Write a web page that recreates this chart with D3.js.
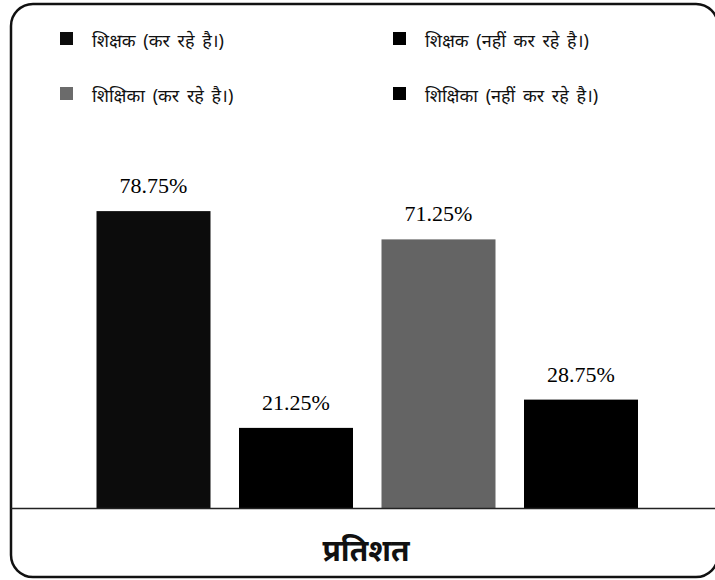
<!DOCTYPE html>
<html>
<head>
<meta charset="utf-8">
<script src="https://cdn.jsdelivr.net/npm/d3@7"></script>
<style>
  body { margin: 0; background: #fff; }
  svg { display: block; }
</style>
</head>
<body>
<div id="chart"></div>
<script>
// data
var categories = ["शिक्षक (कर रहे है।)", "शिक्षक (नहीं कर रहे है।)", "शिक्षिका (कर रहे है।)", "शिक्षिका (नहीं कर रहे है।)"];
var values = [78.75, 21.25, 71.25, 28.75];
var colors = ["#0c0c0c", "#000000", "#646464", "#000000"];
var axisTitle = "प्रतिशत";

var width = 715, height = 580;
var baseY = 508;

var svg = d3.select("#chart").append("svg")
  .attr("width", width)
  .attr("height", height);

// frame, right side runs slightly off the page
svg.append("rect")
  .attr("x", 11)
  .attr("y", 4)
  .attr("width", 707)
  .attr("height", 573)
  .attr("rx", 22)
  .attr("ry", 22)
  .style("fill", "none")
  .style("stroke", "#111")
  .style("stroke-width", 2.5);

var x = d3.scaleBand()
  .domain(categories)
  .range([68, 666.5])
  .padding(0.2);

var y = d3.scaleLinear()
  .domain([0, 100])
  .range([baseY, 131]);

svg.selectAll(".bar")
  .data(categories)
  .enter()
  .append("rect")
  .attr("class", "bar")
  .attr("x", function (d) { return x(d); })
  .attr("y", function (d, i) { return y(values[i]); })
  .attr("width", x.bandwidth())
  .attr("height", function (d, i) { return baseY - y(values[i]); })
  .style("fill", function (d, i) { return colors[i]; });

svg.selectAll(".val")
  .data(categories)
  .enter()
  .append("text")
  .attr("class", "val")
  .attr("x", function (d) { return x(d) + x.bandwidth() / 2; })
  .attr("y", function (d, i) { return y(values[i]) - 18; })
  .attr("text-anchor", "middle")
  .style("font-family", "'Liberation Serif', 'Times New Roman', serif")
  .style("font-size", "22px")
  .style("fill", "#000")
  .text(function (d, i) { return values[i].toFixed(2) + "%"; });

// baseline
svg.append("line")
  .attr("x1", 11)
  .attr("x2", width)
  .attr("y1", baseY + 0.5)
  .attr("y2", baseY + 0.5)
  .style("stroke", "#222")
  .style("stroke-width", 1.5);

svg.append("text")
  .attr("x", 366)
  .attr("y", 561)
  .attr("text-anchor", "middle")
  .style("font-family", "'Noto Sans', sans-serif")
  .style("font-size", "30px")
  .style("font-weight", "bold")
  .style("fill", "#111")
  .text(axisTitle);

// legend: two columns, two rows
var legend = svg.selectAll(".legend")
  .data(categories)
  .enter()
  .append("g")
  .attr("class", "legend")
  .attr("transform", function (d, i) {
    var col = i % 2 === 0 ? 60 : 393;
    var row = i < 2 ? 32 : 87;
    return "translate(" + col + "," + row + ")";
  });

legend.append("rect")
  .attr("x", 0)
  .attr("y", 0)
  .attr("width", 13)
  .attr("height", 13)
  .style("fill", function (d, i) { return colors[i] === "#646464" ? "#6b6b6b" : colors[i]; });

legend.append("text")
  .attr("x", 32)
  .attr("y", 15)
  .style("font-family", "'Noto Sans', sans-serif")
  .style("font-size", "18px")
  .style("word-spacing", "3px")
  .style("fill", "#111")
  .text(function (d) { return d; });
</script>
</body>
</html>
